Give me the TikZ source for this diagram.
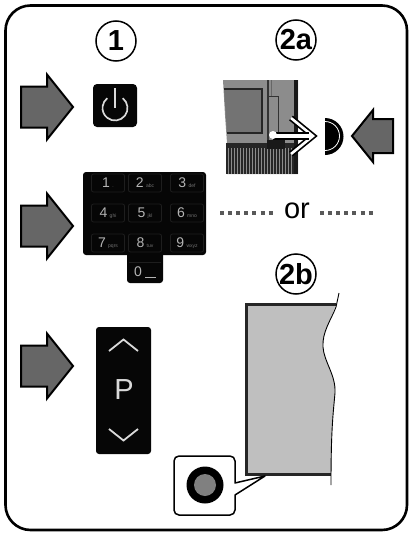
\documentclass[tikz,border=0pt]{standalone}
\usepackage{fontspec}
\setmainfont{Liberation Sans}
\newcommand{\gofrom}[1]{%
  \draw[pointer] (#1) ++(-52,-20.5) -- ++(26,0) -- ++(0,-12) -- ++(26,32.5) -- ++(-26,32.5) -- ++(0,-12) -- ++(-26,0) -- cycle;}
\definecolor{panel}{HTML}{060606}
\definecolor{keyedge}{HTML}{1E1E1E}
\definecolor{keytext}{HTML}{B4B4B4}
\definecolor{backgrey}{HTML}{8C8C8C}
\tikzset{
  pointer/.style={fill=black!60, draw=black, line width=2pt, line join=miter},
  stepmark/.style={circle, draw=black, line width=1.5pt, minimum size=40pt, inner sep=0pt, font=\bfseries\fontsize{29}{29}\selectfont},
  keycap/.style={draw=keyedge, rounded corners=2pt, line width=0.8pt, minimum width=33pt, minimum height=18pt, inner sep=0pt, text=keytext},
  squares/.style={draw=black!65, line width=4pt, dash pattern=on 4pt off 4.1pt},
}
\begin{document}
\begin{tikzpicture}[x=1pt, y=-1pt]
  \useasboundingbox (0,0) rectangle (418,538);
  \draw[line width=2.6pt, rounded corners=25pt] (5.5,5.5) rectangle (407,530);

  \node[stepmark] (one) at (116,41) {1};
  \node[stepmark] (twoa) at (296,40) {2a};
  \node[stepmark] (twob) at (296,274) {2b};

  \coordinate (powertip) at (73,107);
  \coordinate (keystip) at (73,226);
  \coordinate (progtip) at (73,366);
  \gofrom{powertip}
  \gofrom{keystip}
  \gofrom{progtip}
  \draw[pointer] (393,119) -- (373,119) -- (373,110) -- (352,136) -- (373,162) -- (373,153) -- (393,153) -- cycle;

  \fill[panel, rounded corners=4pt] (93,84) rectangle (137,127);
  \draw[black!15, line width=1.7pt] (115,88) -- (115,108);
  \draw[black!15, line width=1.7pt] ([shift=(-52:12.5)]115,108) arc (-52:232:12.5);

  \fill[panel, rounded corners=3pt] (83,172) rectangle (206,255);
  \fill[panel, rounded corners=3pt] (127,250) rectangle (163,283);
  \foreach \col/\row/\dig/\txt in {108/183/1/./@, 145/183/2/abc, 187/183/3/def,
      108/213/4/ghi, 145/213/5/jkl, 187/213/6/mno,
      108/243/7/pqrs, 145/243/8/tuv, 187/243/9/wxyz} {
    \node[keycap] (key\dig) at (\col,\row) {\fontsize{14}{14}\selectfont\dig\,\fontsize{5}{5}\selectfont\color{black!55}\txt};
  }
  \draw[keyedge, line width=0.8pt] (129,262) -- (161,262);
  \node[text=keytext, font=\fontsize{14}{14}\selectfont] (key0) at (138,272) {0};
  \draw[keytext, line width=1pt] (145,277) -- (156,277);

  \fill[panel, rounded corners=3pt] (96,327) rectangle (151,454);
  \draw[black!15, line width=1.8pt] (109,351) -- (123.5,339.5) -- (138,351);
  \draw[black!15, line width=1.8pt] (109,429) -- (123.5,440.5) -- (138,429);
  \node[text=black!15, font=\fontsize{29}{29}\selectfont] (prog) at (124,390) {P};

  \fill[backgrey] (223,80) -- (298,80) -- (298,174) -- (227,174) -- (227,143) -- (225,115) -- cycle;
  \fill[black!55] (224,89) -- (262,89) -- (262,133) -- (227,133) -- cycle;
  \draw[black!85, line width=2.2pt] (224,89) -- (262,89) -- (262,133) -- (227,133);
  \fill[black!85] (226,143) -- (298,143) -- (298,148) -- (226,148) -- cycle;
  \foreach \xa in {227,230,...,296}
    \draw[black!85, line width=1.5pt] (\xa,147) -- (\xa,174);
  \fill[black!90] (294,80) rectangle (298,174);
  \draw[black!80, line width=1.6pt] (268,80) -- (268,145);
  \draw[black!80, line width=1pt] (268,96) -- (278,96) -- (278,140);
  \draw[black!60, line width=1pt] (271,80) -- (271,96);
  \fill[black!90] (267,140) rectangle (285,149);

  \draw[black, line width=6pt, line join=miter] (291,118) -- (313,136) -- (291,154);
  \draw[white, line width=2.6pt, line join=miter] (291,118) -- (313,136) -- (291,154);
  \draw[black, line width=8pt] (273,136) -- (309,136);
  \draw[white, line width=4pt] (273,136) -- (311,136);
  \fill[white] (273,135) circle (4pt);

  \fill[black] (325,118) arc (-90:90:18.5) -- cycle;
  \draw[white, line width=0.8pt] (325,121.5) arc (-90:90:14.5);

  \node[font=\fontsize{29}{29}\selectfont] (orword) at (297,211) {or};
  \coordinate (dotsa) at (220,213);
  \coordinate (dotsb) at (274,213);
  \coordinate (dotsc) at (320,213);
  \coordinate (dotsd) at (375,213);
  \draw[squares] (dotsa) -- (dotsb);
  \draw[squares] (dotsc) -- (dotsd);

  \fill[black!25] (246,304) -- (336,304) .. controls (331,320) and (322,332) .. (323,347)
    .. controls (324,362) and (336,375) .. (335,393)
    .. controls (333,415) and (331,430) .. (331,474) -- (246,474) -- cycle;
  \draw[black!85, line width=3pt] (336,304.5) -- (246.5,304.5) -- (246.5,474) -- (331,474);
  \draw[black, line width=0.9pt] (339,293) -- (336,307) .. controls (331,320) and (322,332) .. (323,347)
    .. controls (324,362) and (336,375) .. (335,393)
    .. controls (333,415) and (331,430) .. (331,485);

  \draw[fill=white, line width=1.5pt, rounded corners=5pt, line join=round] (235,483) [sharp corners] -- (265,476) -- (235,495) [rounded corners=5pt] -- (235,515) -- (174,515) -- (174,456) -- (235,456) [sharp corners] -- cycle;
  \fill[black] (205,485) circle (18.5pt);
  \fill[black!50] (205,485) circle (11pt);
\end{tikzpicture}
\end{document}
